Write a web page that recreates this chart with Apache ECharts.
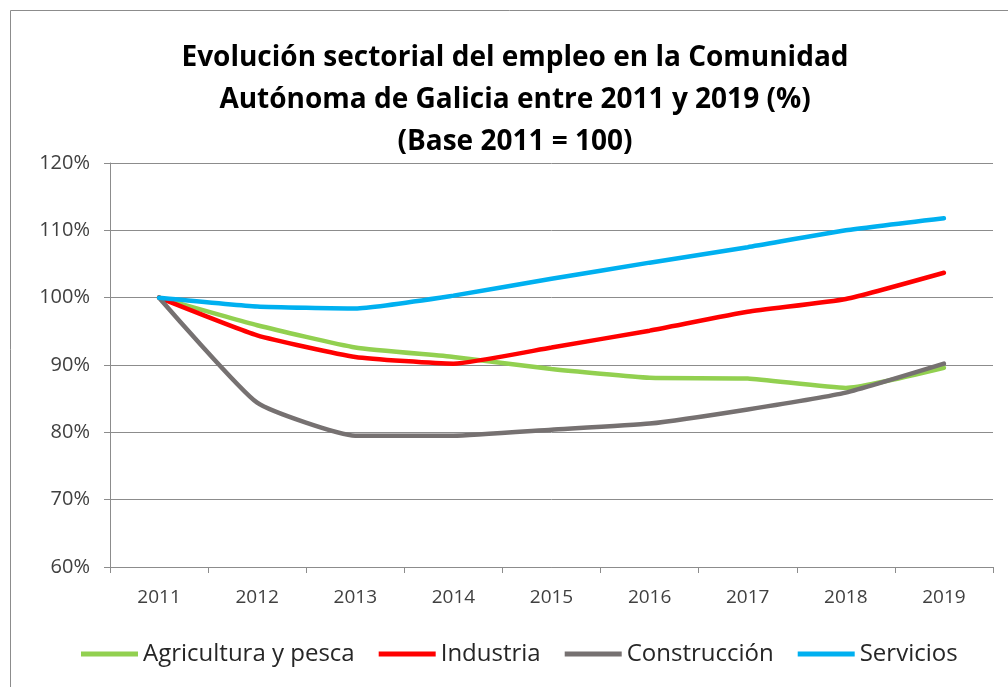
<!DOCTYPE html>
<html>
<head>
<meta charset="utf-8">
<script src="https://cdn.jsdelivr.net/npm/echarts@6/dist/echarts.min.js"></script>
<style>
  html, body { margin: 0; padding: 0; background: #fff; }
  #chart { width: 1008px; height: 687px; }
</style>
</head>
<body>
<div id="chart"></div>
<script>
  var years = ['2011', '2012', '2013', '2014', '2015', '2016', '2017', '2018', '2019'];
  var agricultura = [100, 95.9, 92.6, 91.2, 89.4, 88.1, 88.0, 86.6, 89.6];
  var industria = [100, 94.4, 91.2, 90.2, 92.6, 95.1, 97.9, 99.8, 103.7];
  var construccion = [100, 84.4, 79.5, 79.5, 80.4, 81.3, 83.4, 85.9, 90.2];
  var servicios = [100, 98.7, 98.4, 100.3, 102.8, 105.2, 107.5, 110.0, 111.8];
  var yTicks = [60, 70, 80, 90, 100, 110, 120];

  var chart = echarts.init(document.getElementById('chart'));
  var font = '"Open Sans", "Noto Sans", sans-serif';

  function line(name, data, color) {
    return {
      name: name,
      type: 'line',
      data: data,
      smooth: 0.15,
      symbol: 'none',
      lineStyle: { color: color, width: 4.5, cap: 'round' },
      itemStyle: { color: color }
    };
  }

  var option = {
    backgroundColor: '#fff',
    animation: false,
    graphic: [{
      type: 'rect',
      shape: { x: 10.5, y: 10.5, width: 1010, height: 700 },
      style: { fill: 'none', stroke: '#8c8c8c', lineWidth: 1 }
    }],
    title: {
      text: 'Evolución sectorial del empleo en la Comunidad\nAutónoma de Galicia entre 2011 y 2019 (%)\n(Base 2011 = 100)',
      left: 510,
      textAlign: 'center',
      top: 32,
      textStyle: {
        fontFamily: font,
        fontSize: 28,
        fontWeight: 'bold',
        color: '#000',
        lineHeight: 42
      }
    },
    grid: { left: 110, right: 15, top: 163, bottom: 120 },
    legend: {
      bottom: 16,
      left: 76,
      itemWidth: 57,
      itemHeight: 5,
      itemGap: 24,
      icon: 'rect',
      textStyle: { fontFamily: font, fontSize: 24, color: '#262626' },
      data: ['Agricultura y pesca', 'Industria', 'Construcción', 'Servicios']
    },
    xAxis: {
      type: 'category',
      data: years,
      boundaryGap: true,
      axisLine: { lineStyle: { color: '#8c8c8c', width: 1 } },
      axisTick: { show: true, length: 6, lineStyle: { color: '#8c8c8c' } },
      axisLabel: { fontFamily: font, fontSize: 19, color: '#404040', margin: 21 }
    },
    yAxis: {
      type: 'value',
      min: 60,
      max: 120,
      interval: 10,
      axisLine: { show: true, lineStyle: { color: '#8c8c8c', width: 1 } },
      axisTick: { show: true, length: 6, lineStyle: { color: '#8c8c8c' } },
      splitLine: { lineStyle: { color: '#8c8c8c', width: 1 } },
      axisLabel: {
        fontFamily: font, fontSize: 20, color: '#404040', margin: 20,
        formatter: function (v) { return yTicks.indexOf(v) >= 0 ? v + '%' : ''; }
      }
    },
    series: [
      line('Agricultura y pesca', agricultura, '#92d050'),
      line('Industria', industria, '#ff0000'),
      line('Construcción', construccion, '#767171'),
      line('Servicios', servicios, '#00b0f0')
    ]
  };

  chart.setOption(option);
</script>
</body>
</html>
